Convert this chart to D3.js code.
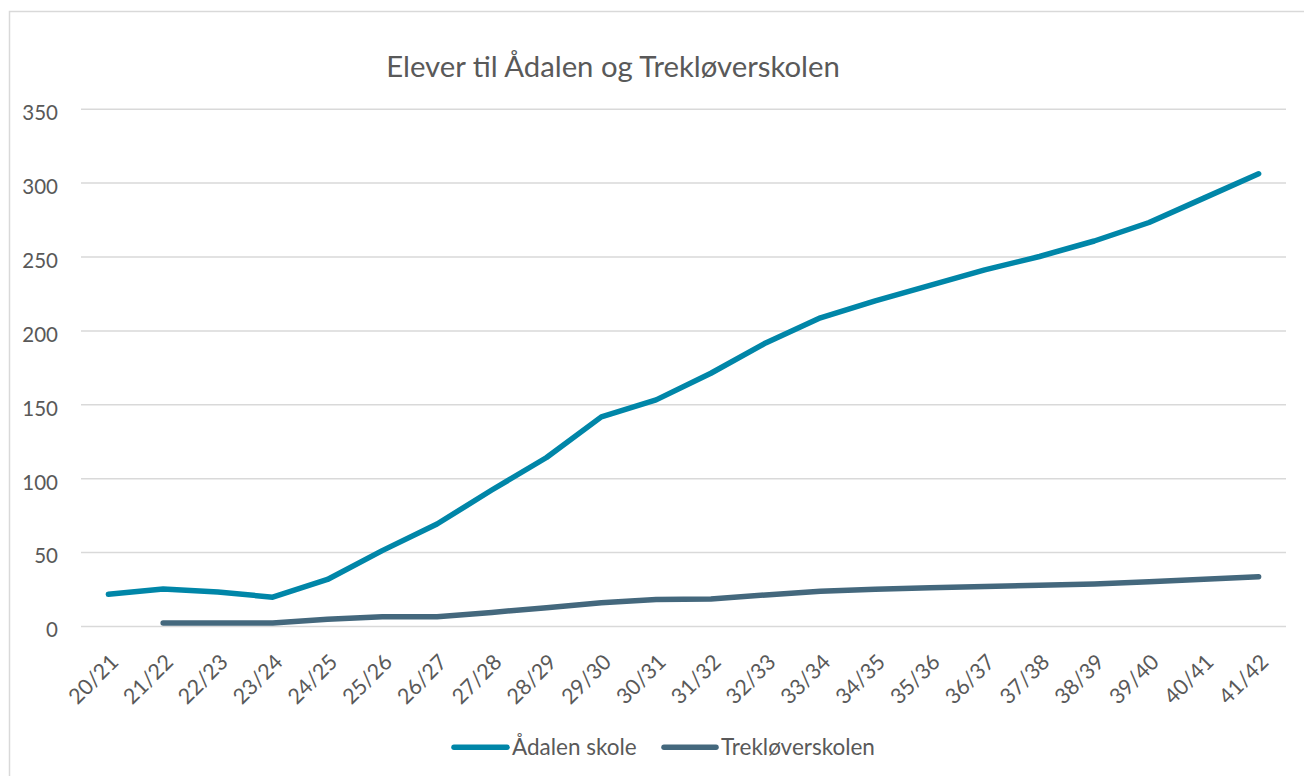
<!DOCTYPE html>
<html>
<head>
<meta charset="utf-8">
<script src="https://cdn.jsdelivr.net/npm/d3@7"></script>
<style>
  html, body { margin: 0; padding: 0; background: #ffffff; }
  svg { display: block; font-family: Lato, "Open Sans", sans-serif; }
</style>
</head>
<body>
<svg id="chart" width="1304" height="776"></svg>
<script>
const title = "Elever til Ådalen og Trekløverskolen";
const categories = ["20/21","21/22","22/23","23/24","24/25","25/26","26/27","27/28","28/29","29/30","30/31",
  "31/32","32/33","33/34","34/35","35/36","36/37","37/38","38/39","39/40","40/41","41/42"];
const seriesNames = ["Ådalen skole", "Trekløverskolen"];
const adalen = [21.5, 25, 23, 19.5, 31.5, 51, 69, 92, 114, 141.5, 153, 171, 191.5, 208.5, 220, 230.5, 241, 250, 260.5, 273, 289.5, 306];
const treklover = [null, 2, 2, 2, 4.5, 6.3, 6.3, 9.2, 12.4, 15.8, 18, 18.2, 21, 23.5, 24.8, 25.8, 26.7, 27.5, 28.5, 30, 31.7, 33.4];
const yTicks = [0, 50, 100, 150, 200, 250, 300, 350];
const colors = ["#0086A8", "#44687D"];

(function () {
const svg = d3.select("#chart");
const textColor = "#595959";

// outer chart border
svg.append("rect").attr("x", 9.5).attr("y", 11.5).attr("width", 1320).attr("height", 800)
  .attr("fill", "none").attr("stroke", "#d9d9d9").attr("stroke-width", 1.5);

const pLeft = 81, pRight = 1286, pTop = 108.7, pBottom = 626;
const x = d3.scaleBand().domain(categories).range([pLeft, pRight]);
const y = d3.scaleLinear().domain([0, 350]).range([pBottom, pTop]);
const cx = c => x(c) + x.bandwidth() / 2;

// title
svg.append("text").attr("x", 613).attr("y", 77).attr("text-anchor", "middle")
  .attr("font-size", 29.3).attr("fill", textColor).text(title);

// y axis with gridlines
const yAxis = svg.append("g").attr("transform", `translate(${pLeft},0)`)
  .call(d3.axisLeft(y).tickValues(yTicks).tickSize(-(pRight - pLeft)).tickPadding(23));
yAxis.select(".domain").remove();
yAxis.selectAll(".tick line").attr("stroke", "#d9d9d9").attr("stroke-width", 1.5);
yAxis.selectAll(".tick text").attr("font-size", 20.5).attr("fill", textColor)
  .attr("font-family", "Lato, 'Open Sans', sans-serif").attr("dy", "0.53em");

// x axis labels
const xAxis = svg.append("g").attr("transform", `translate(0,${pBottom})`)
  .call(d3.axisBottom(x).tickSize(0));
xAxis.select(".domain").remove();
xAxis.selectAll(".tick text")
  .attr("font-size", 21.5).attr("fill", textColor).attr("font-family", "Lato, 'Open Sans', sans-serif")
  .attr("text-anchor", "end").attr("y", 0).attr("dy", "0.35em")
  .attr("transform", "translate(6,32) rotate(-45)");

// lines
const seriesData = [adalen, treklover];
const line = d3.line()
  .defined(d => d.v !== null)
  .x(d => cx(d.c)).y(d => y(d.v));
seriesData.forEach((vals, i) => {
  const pts = categories.map((c, j) => ({c, v: vals[j]}));
  svg.append("path").datum(pts).attr("d", line)
    .attr("fill", "none").attr("stroke", colors[i]).attr("stroke-width", 5.5)
    .attr("stroke-linecap", "round").attr("stroke-linejoin", "round");
});

// legend
const legendItems = [
  {x1: 454, x2: 507, tx: 512},
  {x1: 664, x2: 716, tx: 721}
];
seriesNames.forEach((name, i) => {
  const it = legendItems[i];
  svg.append("line").attr("x1", it.x1).attr("x2", it.x2).attr("y1", 747.3).attr("y2", 747.3)
    .attr("stroke", colors[i]).attr("stroke-width", 5.5).attr("stroke-linecap", "round");
  svg.append("text").attr("x", it.tx).attr("y", 755).attr("font-size", 22.5)
    .attr("fill", textColor).text(name);
});
})();
</script>
</body>
</html>
